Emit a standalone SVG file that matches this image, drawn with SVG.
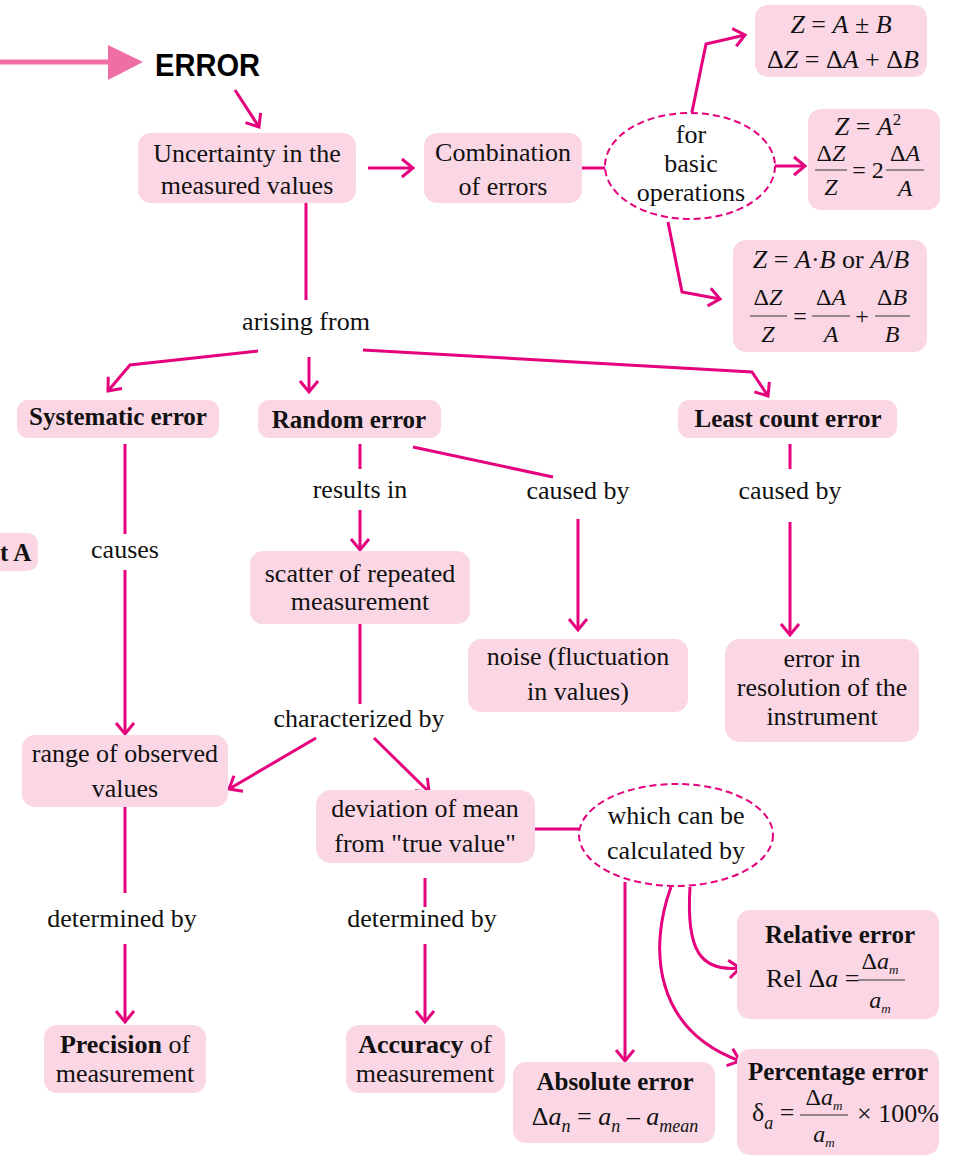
<svg xmlns="http://www.w3.org/2000/svg" width="955" height="1160" viewBox="0 0 955 1160">
<style>
.box{fill:#fbd7e5}
.ln{fill:none;stroke:#e5007d;stroke-width:3}
.arr{marker-end:url(#ah)}
.ell{fill:#fff;stroke:#e5007d;stroke-width:2;stroke-dasharray:7 4}
.t{font-family:"Liberation Serif","Times New Roman",serif;font-size:26px;fill:#111;text-anchor:middle}
.s{text-anchor:start}
.b{font-weight:bold;font-size:25px}
.i{font-style:italic}
.m{font-size:24px}
.fl{stroke:#333;stroke-width:1}
</style>
<defs>
<marker id="ah" markerUnits="userSpaceOnUse" markerWidth="16" markerHeight="22" viewBox="0 0 16 22" refX="13" refY="11" orient="auto">
<path d="M2,2 L13,11 L2,20" fill="none" stroke="#e5007d" stroke-width="3"/>
</marker>
</defs>
<rect width="955" height="1160" fill="#fff"/>

<g id="connectors">
<line x1="0" y1="62" x2="112" y2="62" stroke="#ef6fa4" stroke-width="5"/>
<polygon points="108,45 143,62 108,80" fill="#ef6fa4"/>
<line class="ln arr" x1="235" y1="90" x2="259" y2="127"/>
<line class="ln arr" x1="368" y1="168" x2="413" y2="168"/>
<line class="ln" x1="582" y1="168" x2="606" y2="168"/>
<polyline class="ln arr" points="692,112 706,44 745,35"/>
<line class="ln arr" x1="775" y1="166" x2="805" y2="166"/>
<polyline class="ln arr" points="668,222 682,292 720,299"/>
<line class="ln" x1="306" y1="203" x2="306" y2="300"/>
<polyline class="ln arr" points="258,351 130,365 108,391"/>
<line class="ln arr" x1="309" y1="357" x2="309" y2="392"/>
<polyline class="ln arr" points="363,350 752,372 768,396"/>
<line class="ln" x1="125" y1="444" x2="125" y2="534"/>
<line class="ln arr" x1="125" y1="570" x2="125" y2="734"/>
<line class="ln" x1="360" y1="444" x2="360" y2="469"/>
<line class="ln arr" x1="360" y1="510" x2="360" y2="550"/>
<line class="ln" x1="413" y1="447" x2="553" y2="477"/>
<line class="ln arr" x1="578" y1="519" x2="578" y2="630"/>
<line class="ln" x1="790" y1="444" x2="790" y2="469"/>
<line class="ln arr" x1="790" y1="522" x2="790" y2="635"/>
<line class="ln" x1="360" y1="624" x2="360" y2="704"/>
<line class="ln arr" x1="316" y1="738" x2="229" y2="789"/>
<line class="ln arr" x1="374" y1="738" x2="429" y2="792"/>
<line class="ln" x1="125" y1="807" x2="125" y2="893"/>
<line class="ln arr" x1="125" y1="944" x2="125" y2="1022"/>
<line class="ln" x1="425" y1="878" x2="425" y2="907"/>
<line class="ln arr" x1="425" y1="944" x2="425" y2="1022"/>
<line class="ln" x1="535" y1="829" x2="579" y2="829"/>
<line class="ln arr" x1="625" y1="882" x2="625" y2="1061"/>
<path class="ln arr" d="M671,887 C648,950 655,1030 740,1061"/>
<path class="ln arr" d="M690,887 C686,950 700,972 740,968"/>
</g>

<g id="error"><text x="155" y="76" font-family="Liberation Sans,Arial,sans-serif" font-weight="bold" font-size="32" textLength="105" lengthAdjust="spacingAndGlyphs" fill="#000">ERROR</text></g>

<g id="uncertainty"><rect class="box" x="138" y="133" width="218" height="70" rx="13"/>
<text class="t" x="247" y="162">Uncertainty in the</text><text class="t" x="247" y="194">measured values</text></g>

<g id="combination"><rect class="box" x="424" y="133" width="158" height="70" rx="13"/>
<text class="t" x="503" y="161">Combination</text><text class="t" x="503" y="195">of errors</text></g>

<g id="basic-ops"><ellipse class="ell" cx="690" cy="166" rx="85" ry="53"/>
<text class="t" x="691" y="143">for</text><text class="t" x="691" y="172">basic</text><text class="t" x="691" y="201">operations</text></g>

<g id="sum"><rect class="box" x="755" y="5" width="172" height="72" rx="13"/>
<text class="t" x="841" y="33"><tspan class="i">Z</tspan> = <tspan class="i">A</tspan> ± <tspan class="i">B</tspan></text>
<text class="t" x="843" y="68">Δ<tspan class="i">Z</tspan> = Δ<tspan class="i">A</tspan> + Δ<tspan class="i">B</tspan></text></g>

<g id="power"><rect class="box" x="808" y="109" width="132" height="101" rx="13"/>
<text class="t" x="868" y="135"><tspan class="i">Z</tspan> = <tspan class="i">A</tspan><tspan dy="-10" font-size="17">2</tspan></text>
<text class="t m" x="831" y="161">Δ<tspan class="i">Z</tspan></text><line class="fl" x1="815" y1="170" x2="847" y2="170"/><text class="t m i" x="831" y="195">Z</text>
<text class="t m" x="868" y="178">= 2</text>
<text class="t m" x="905" y="161">Δ<tspan class="i">A</tspan></text><line class="fl" x1="886" y1="170" x2="924" y2="170"/><text class="t m i" x="905" y="196">A</text></g>

<g id="product"><rect class="box" x="733" y="240" width="194" height="112" rx="13"/>
<text class="t" x="831" y="268"><tspan class="i">Z</tspan> = <tspan class="i">A</tspan>·<tspan class="i">B</tspan> or <tspan class="i">A</tspan>/<tspan class="i">B</tspan></text>
<text class="t m" x="768" y="305">Δ<tspan class="i">Z</tspan></text><line class="fl" x1="750" y1="316" x2="787" y2="316"/><text class="t m i" x="768" y="342">Z</text>
<text class="t m" x="800" y="324">=</text>
<text class="t m" x="831" y="305">Δ<tspan class="i">A</tspan></text><line class="fl" x1="812" y1="316" x2="850" y2="316"/><text class="t m i" x="831" y="342">A</text>
<text class="t m" x="862" y="324">+</text>
<text class="t m" x="892" y="305">Δ<tspan class="i">B</tspan></text><line class="fl" x1="875" y1="316" x2="910" y2="316"/><text class="t m i" x="892" y="342">B</text></g>

<g id="arising"><text class="t" x="306" y="330">arising from</text></g>

<g id="systematic"><rect class="box" x="17" y="400" width="202" height="38" rx="11"/><text class="t b" x="118" y="425">Systematic error</text></g>
<g id="random"><rect class="box" x="258" y="400" width="183" height="38" rx="11"/><text class="t b" x="349" y="428" font-size="26">Random error</text></g>
<g id="leastcount"><rect class="box" x="678" y="400" width="219" height="38" rx="11"/><text class="t b" x="788" y="427">Least count error</text></g>

<g id="partA"><rect class="box" x="-20" y="533" width="58" height="38" rx="10"/><text class="t b s" x="0" y="561">t A</text></g>

<g id="lbl-causes"><text class="t" x="125" y="558">causes</text></g>
<g id="lbl-results"><text class="t" x="360" y="498">results in</text></g>
<g id="lbl-caused1"><text class="t" x="578" y="499">caused by</text></g>
<g id="lbl-caused2"><text class="t" x="790" y="499">caused by</text></g>

<g id="scatter"><rect class="box" x="250" y="551" width="220" height="73" rx="13"/>
<text class="t" x="360" y="582">scatter of repeated</text><text class="t" x="360" y="610">measurement</text></g>

<g id="noise"><rect class="box" x="468" y="639" width="220" height="73" rx="13"/>
<text class="t" x="578" y="665">noise (fluctuation</text><text class="t" x="578" y="700">in values)</text></g>

<g id="resolution"><rect class="box" x="725" y="639" width="194" height="103" rx="15"/>
<text class="t" x="822" y="667">error in</text><text class="t" x="822" y="696">resolution of the</text><text class="t" x="822" y="725">instrument</text></g>

<g id="lbl-char"><text class="t" x="359" y="727">characterized by</text></g>

<g id="range"><rect class="box" x="22" y="735" width="206" height="72" rx="13"/>
<text class="t" x="125" y="762">range of observed</text><text class="t" x="125" y="797">values</text></g>

<g id="deviation"><rect class="box" x="316" y="790" width="219" height="73" rx="15"/>
<text class="t" x="425" y="817">deviation of mean</text><text class="t" x="425" y="852">from "true value"</text></g>

<g id="calc"><ellipse class="ell" cx="676" cy="835" rx="97" ry="51"/>
<text class="t" x="676" y="824">which can be</text><text class="t" x="676" y="859">calculated by</text></g>

<g id="lbl-det1"><text class="t" x="122" y="927">determined by</text></g>
<g id="lbl-det2"><text class="t" x="422" y="927">determined by</text></g>

<g id="precision"><rect class="box" x="44" y="1025" width="162" height="68" rx="13"/>
<text class="t" x="125" y="1053"><tspan font-weight="bold">Precision</tspan> of</text><text class="t" x="125" y="1082">measurement</text></g>

<g id="accuracy"><rect class="box" x="346" y="1025" width="159" height="68" rx="13"/>
<text class="t" x="425" y="1053"><tspan font-weight="bold">Accuracy</tspan> of</text><text class="t" x="425" y="1082">measurement</text></g>

<g id="absolute"><rect class="box" x="513" y="1062" width="202" height="81" rx="13"/>
<text class="t b" x="615" y="1090">Absolute error</text>
<text class="t" x="615" y="1125">Δ<tspan class="i">a</tspan><tspan class="i" font-size="18" dy="7">n</tspan><tspan dy="-7"> = </tspan><tspan class="i">a</tspan><tspan class="i" font-size="18" dy="7">n</tspan><tspan dy="-7"> – </tspan><tspan class="i">a</tspan><tspan class="i" font-size="18" dy="7">mean</tspan></text></g>

<g id="relative"><rect class="box" x="737" y="910" width="202" height="109" rx="13"/>
<text class="t b" x="840" y="943">Relative error</text>
<text class="t s" x="766" y="987">Rel Δ<tspan class="i">a</tspan> =</text>
<text class="t m" x="880" y="969">Δ<tspan class="i">a</tspan><tspan class="i" font-size="13" dy="5">m</tspan></text>
<line class="fl" x1="858" y1="980" x2="905" y2="980"/>
<text class="t m" x="880" y="1008"><tspan class="i">a</tspan><tspan class="i" font-size="13" dy="5">m</tspan></text></g>

<g id="percentage"><rect class="box" x="737" y="1049" width="202" height="106" rx="13"/>
<text class="t b" x="838" y="1080">Percentage error</text>
<text class="t s" x="752" y="1121">δ<tspan class="i" font-size="18" dy="8">a</tspan><tspan dy="-8"> =</tspan></text>
<text class="t m" x="824" y="1105">Δ<tspan class="i">a</tspan><tspan class="i" font-size="13" dy="5">m</tspan></text>
<line class="fl" x1="800" y1="1115" x2="848" y2="1115"/>
<text class="t m" x="824" y="1142"><tspan class="i">a</tspan><tspan class="i" font-size="13" dy="5">m</tspan></text>
<text class="t s" x="857" y="1122">× 100%</text></g>
</svg>
